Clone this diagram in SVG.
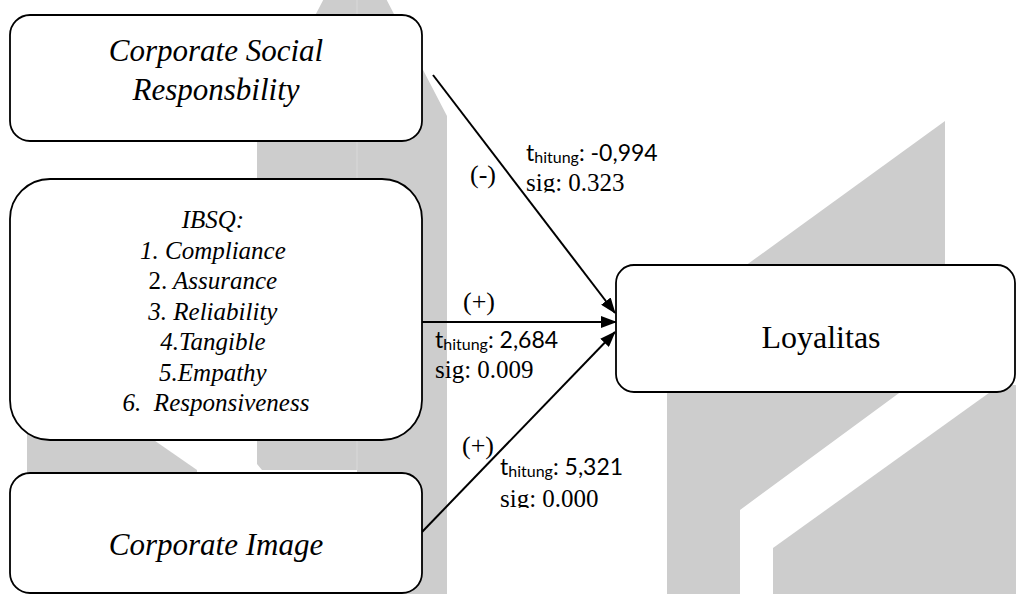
<svg xmlns="http://www.w3.org/2000/svg" width="1016" height="594" viewBox="0 0 1016 594">
<style>
.wm{fill:#cdcdcd;stroke:none}
.box{fill:#ffffff;stroke:#000000;stroke-width:1.8}
.it{font-family:'Liberation Serif',Tinos,'Times New Roman',Times,'Noto Serif','DejaVu Serif',serif;font-style:italic;fill:#000;text-anchor:middle}
.rm{font-family:'Liberation Serif',Tinos,'Times New Roman',Times,'Noto Serif','DejaVu Serif',serif;fill:#000}
.cal{font-family:Lato,'Liberation Sans',sans-serif;fill:#000;font-size:23px}
.conn{stroke:#000;stroke-width:2;fill:none;marker-end:url(#arr)}
</style>
<defs>
<marker id="arr" markerUnits="userSpaceOnUse" markerWidth="16" markerHeight="12" viewBox="0 0 16 12" refX="15" refY="6" orient="auto">
<path d="M0,0 L16,6 L0,12 z" fill="#000"/>
</marker>
<clipPath id="c1"><rect x="500" y="160" width="200" height="32.5"/></clipPath>
<clipPath id="c3"><rect x="480" y="478" width="200" height="30"/></clipPath>
</defs>
<g id="watermark">
<polygon class="wm" points="355,-61 447,116 447,594 357,594 357,470 262,470 257,464 257,127"/>
<line x1="357" y1="0" x2="357" y2="470" stroke="#d9d9d9" stroke-width="1"/>
<polygon class="wm" points="27,400 96,400 197,470 197,480 27,480"/>
<polygon class="wm" points="745,266 945,121 945,266"/>
<polygon class="wm" points="667,385 910,385 740,510 740,594 667,594"/>
<polygon class="wm" points="1000,385 1016,385 1016,594 773,594 773,548"/>
</g>
<g id="connectors">
<line class="conn" x1="433" y1="75" x2="615" y2="313"/>
<line class="conn" x1="422" y1="322" x2="616" y2="322"/>
<line class="conn" x1="422" y1="532" x2="615" y2="332"/>
<text class="rm" x="470" y="183" font-size="26">(-)</text>
<text class="cal" x="526" y="161">t<tspan font-size="16" dy="1.5">hitung</tspan><tspan dy="-1.5">: -0,994</tspan></text>
<text class="rm" x="526" y="191" font-size="25" clip-path="url(#c1)">sig: 0.323</text>
<text class="rm" x="463" y="310" font-size="26">(+)</text>
<text class="cal" x="435" y="348">t<tspan font-size="16" dy="1.5">hitung</tspan><tspan dy="-1.5">: 2,684</tspan></text>
<text class="rm" x="435" y="378" font-size="25">sig: 0.009</text>
<text class="rm" x="462" y="454" font-size="26">(+)</text>
<text class="cal" x="500" y="475">t<tspan font-size="16" dy="1.5">hitung</tspan><tspan dy="-1.5">: 5,321</tspan></text>
<text class="rm" x="500" y="507" font-size="25" clip-path="url(#c3)">sig: 0.000</text>
</g>
<g id="csr">
<rect class="box" x="10" y="15" width="412" height="126" rx="20" ry="20"/>
<text class="it" x="216" y="61" font-size="31">Corporate Social</text>
<text class="it" x="216" y="100" font-size="31">Responsbility</text>
</g>
<g id="ibsq">
<rect class="box" x="10" y="179" width="412" height="261" rx="40" ry="40"/>
<text class="it" font-size="25">
<tspan x="216" y="228">IBSQ:</tspan>
<tspan x="216" y="258.5">1. Compliance</tspan>
<tspan x="216" y="289"><tspan font-style="normal">2.</tspan> Assurance</tspan>
<tspan x="216" y="319.5">3. Reliability</tspan>
<tspan x="216" y="350">4.Tangible</tspan>
<tspan x="216" y="380.5">5.Empathy</tspan>
<tspan x="216" y="411" xml:space="preserve">6.  Responsiveness</tspan>
</text>
</g>
<g id="image">
<rect class="box" x="10" y="473" width="412" height="120" rx="20" ry="20"/>
<text class="it" x="216" y="555" font-size="31">Corporate Image</text>
</g>
<g id="loyalitas">
<rect class="box" x="616" y="265" width="399" height="127" rx="18" ry="18"/>
<text class="rm" x="821" y="348" font-size="32" text-anchor="middle">Loyalitas</text>
</g>
</svg>
